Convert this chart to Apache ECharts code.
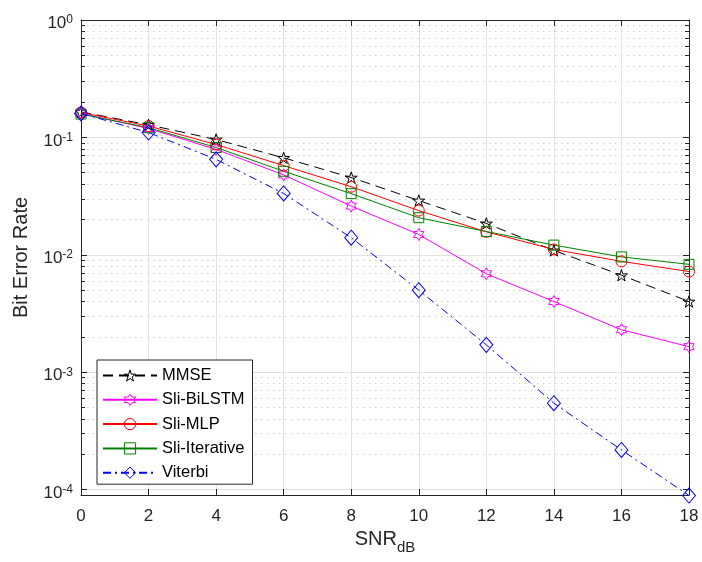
<!DOCTYPE html>
<html>
<head>
<meta charset="utf-8">
<script src="https://cdn.jsdelivr.net/npm/echarts@6/dist/echarts.min.js"></script>
<style>
  html, body { margin: 0; padding: 0; background: #fff; }
  #chart { width: 702px; height: 562px; }
</style>
</head>
<body>
<div id="chart"></div>
<script>
// SNR points (dB)
const snr = [0, 2, 4, 6, 8, 10, 12, 14, 16, 18];

// Bit error rate per detector
const mmse      = [0.165, 0.128, 0.096, 0.067, 0.0455, 0.029, 0.0185, 0.0109, 0.0067, 0.0040];
const sliBiLSTM = [0.160, 0.119, 0.079, 0.048, 0.026, 0.0149, 0.0069, 0.0040, 0.0023, 0.00165];
const sliMLP    = [0.163, 0.125, 0.087, 0.0575, 0.038, 0.0238, 0.0157, 0.0111, 0.0088, 0.0072];
const sliIter   = [0.158, 0.121, 0.082, 0.0515, 0.0332, 0.0207, 0.0158, 0.0121, 0.0096, 0.0083];
const viterbi   = [0.160, 0.110, 0.065, 0.0333, 0.0140, 0.0050, 0.00171, 0.000545, 0.000218, 0.000089];

// Axis ticks
const xTicks = [0, 2, 4, 6, 8, 10, 12, 14, 16, 18];
const yMajor = [1e-4, 1e-3, 1e-2, 1e-1, 1];
const yMin = 9e-5, yMax = 1;
const yMinor = [];
for (let d = -5; d <= -1; d++) {
  for (let k = 2; k <= 9; k++) {
    const v = k * Math.pow(10, d);
    if (v >= yMin && v < yMax) yMinor.push(v);
  }
}

const FONT = '"Liberation Sans", Arial, Helvetica, sans-serif';
const INK = '#262626';

// Marker outlines
const PENTAGRAM = 'path://M100,0 L122.45,69.1 L195.11,69.1 L136.33,111.8 L158.78,180.9 L100,138.2 L41.22,180.9 L63.67,111.8 L4.89,69.1 L77.55,69.1 Z';
const HEXAGRAM = 'path://M100,0 L128.87,50 L186.6,50 L157.7,100 L186.6,150 L128.87,150 L100,200 L71.13,150 L13.4,150 L42.3,100 L13.4,50 L71.13,50 Z';

function pairs(ys) { return snr.map((x, i) => [x, ys[i]]); }

function lineSeries(name, ys, color, symbol, size, dash) {
  return {
    name: name,
    type: 'line',
    xAxisIndex: 0,
    yAxisIndex: 0,
    data: pairs(ys),
    clip: false,
    symbol: symbol,
    symbolSize: size,
    symbolKeepAspect: true,
    showAllSymbol: true,
    lineStyle: { color: color, width: 1, type: dash || 'solid' },
    itemStyle: { color: 'rgba(0,0,0,0)', borderColor: color, borderWidth: 1 },
    emphasis: { disabled: true },
    animation: false
  };
}

const tickStyle = { color: INK, width: 1 };

const option = {
  animation: false,
  backgroundColor: '#fff',
  textStyle: { fontFamily: FONT },
  grid: { left: 81, right: 13, top: 20, bottom: 67, containLabel: false, outerBoundsMode: 'none' },
  legend: {
    orient: 'vertical',
    left: 97,
    top: 360,
    padding: [7, 8, 3, 5],
    itemGap: 7.3,
    itemWidth: 54,
    itemHeight: 14,
    backgroundColor: '#fff',
    borderColor: INK,
    borderWidth: 1,
    borderRadius: 0,
    itemStyle: { borderWidth: 1 },
    textStyle: { fontSize: 16.5, color: '#000', fontFamily: FONT },
    data: ['MMSE', 'Sli-BiLSTM', 'Sli-MLP', 'Sli-Iterative', 'Viterbi']
  },
  xAxis: [
    {
      type: 'value', min: 0, max: 18, interval: 2, position: 'bottom',
      axisLine: { show: true, onZero: false, lineStyle: tickStyle },
      axisTick: { show: true, inside: true, length: 6, lineStyle: tickStyle },
      axisLabel: { show: true, fontSize: 17, color: INK, margin: 13, fontFamily: FONT,
                   formatter: v => xTicks.includes(v) ? String(v) : '' },
      splitLine: { show: true, lineStyle: { color: '#e2e2e2', width: 1 } },
      name: '{a|SNR}{b|dB}',
      nameLocation: 'middle',
      nameGap: 31,
      nameTextStyle: {
        rich: {
          a: { fontSize: 20, color: INK, fontFamily: FONT, lineHeight: 24, verticalAlign: 'top' },
          b: { fontSize: 15, color: INK, fontFamily: FONT, lineHeight: 15, padding: [10, 0, 0, 0], verticalAlign: 'top' }
        }
      }
    },
    {
      type: 'value', min: 0, max: 18, interval: 2, position: 'top',
      axisLine: { show: true, onZero: false, lineStyle: tickStyle },
      axisTick: { show: true, inside: true, length: 6, lineStyle: tickStyle },
      axisLabel: { show: false },
      splitLine: { show: false }
    }
  ],
  yAxis: [
    {
      type: 'log', min: yMin, max: yMax, position: 'left',
      axisLine: { show: true, onZero: false, lineStyle: tickStyle },
      axisTick: { show: true, inside: true, length: 6, lineStyle: tickStyle, customValues: yMajor },
      axisLabel: {
        show: true, margin: 8, customValues: yMajor,
        formatter: v => '{b|10}{s|' + Math.round(Math.log10(v)) + '}',
        rich: {
          b: { fontSize: 17, color: INK, fontFamily: FONT, lineHeight: 22, padding: [7, 0, 0, 0] },
          s: { fontSize: 12, color: INK, fontFamily: FONT, lineHeight: 13, padding: [5, 0, 0, 0], verticalAlign: 'top' }
        }
      },
      splitLine: { show: true, lineStyle: { color: '#e2e2e2', width: 1 } },
      name: 'Bit Error Rate',
      nameLocation: 'middle',
      nameGap: 50,
      nameRotate: 90,
      nameTextStyle: { fontSize: 20, color: INK, fontFamily: FONT }
    },
    {
      type: 'log', min: yMin, max: yMax, position: 'left',
      axisLine: { show: false, onZero: false },
      axisTick: { show: true, inside: true, length: 4, lineStyle: tickStyle, customValues: yMinor },
      axisLabel: { show: false },
      splitLine: { show: true, lineStyle: { color: '#cfcfcf', width: 1, type: [1.5, 4.5] } }
    },
    {
      type: 'log', min: yMin, max: yMax, position: 'right',
      axisLine: { show: true, onZero: false, lineStyle: tickStyle },
      axisTick: { show: true, inside: true, length: 6, lineStyle: tickStyle, customValues: yMajor },
      axisLabel: { show: false },
      splitLine: { show: false }
    },
    {
      type: 'log', min: yMin, max: yMax, position: 'right',
      axisLine: { show: false, onZero: false },
      axisTick: { show: true, inside: true, length: 4, lineStyle: tickStyle, customValues: yMinor },
      axisLabel: { show: false },
      splitLine: { show: false }
    }
  ],
  series: [
    lineSeries('MMSE', mmse, '#000000', PENTAGRAM, 12, [10, 6]),
    lineSeries('Sli-BiLSTM', sliBiLSTM, '#ff00ff', HEXAGRAM, 12),
    lineSeries('Sli-MLP', sliMLP, '#ff0000', 'circle', 11),
    lineSeries('Sli-Iterative', sliIter, '#008000', 'rect', 10),
    lineSeries('Viterbi', viterbi, '#0000ff', 'diamond', [13, 15], [8, 4, 2, 4])
  ]
};

const chart = echarts.init(document.getElementById('chart'), null, { renderer: 'canvas' });
chart.setOption(option);
</script>
</body>
</html>
